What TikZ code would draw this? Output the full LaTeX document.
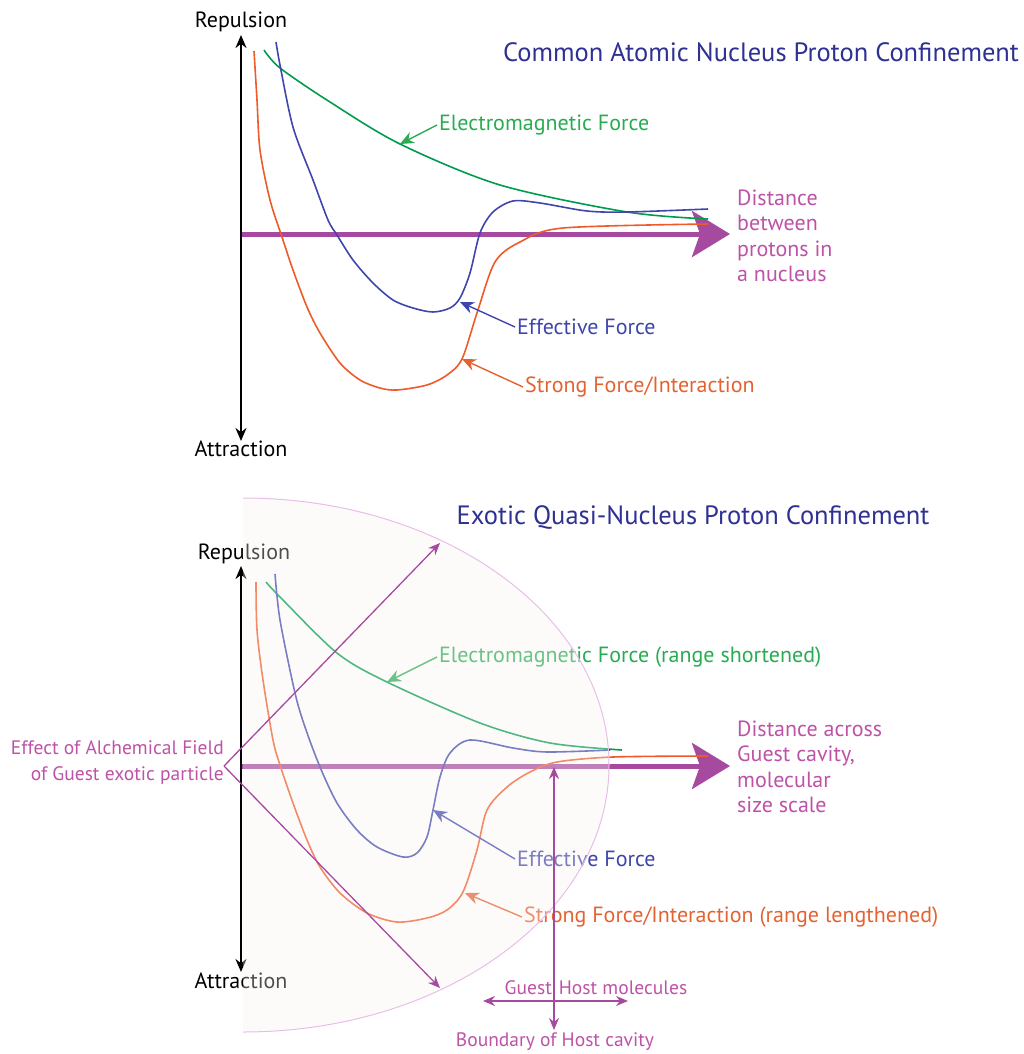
\documentclass[tikz,border=0pt]{standalone}
\usepackage{fontspec}
\setmainfont{PT Sans}
\usetikzlibrary{arrows.meta, positioning, calc}

\definecolor{axpurple}{RGB}{166,74,160}
\definecolor{txtmag}{RGB}{190,82,166}
\definecolor{ttlblue}{RGB}{46,49,146}
\definecolor{emgreen}{RGB}{0,156,78}
\definecolor{emtext}{RGB}{40,172,82}
\definecolor{effblue}{RGB}{62,70,172}
\definecolor{strorange}{RGB}{238,90,40}
\definecolor{strtext}{RGB}{228,98,48}
\definecolor{veil}{RGB}{248,243,241}
\definecolor{rimpink}{RGB}{232,190,232}

\tikzset{
  lbl/.style={font=\fontsize{22}{25.5}\selectfont, inner sep=2pt},
  smlbl/.style={font=\fontsize{19.5}{26}\selectfont, inner sep=1pt, text=txtmag},
  ttl/.style={font=\fontsize{26.5}{30}\selectfont, text=ttlblue, inner sep=0pt},
  curve/.style={line width=1.6pt},
  pointer/.style={line width=1.4pt, -{Stealth[length=14pt,width=12pt]}},
  yaxis/.style={line width=2.2pt, {Stealth[length=13pt,width=11pt]}-{Stealth[length=13pt,width=11pt]}},
  xaxis/.style={line width=5pt, axpurple, -{Stealth[length=38pt,width=46pt,inset=8pt]}},
  fxarrow/.style={line width=1.3pt, axpurple, -{Stealth[length=12pt,width=10pt]}},
  dblarrow/.style={line width=1.3pt, axpurple, {Stealth[length=12pt,width=10pt]}-{Stealth[length=12pt,width=10pt]}}
}

\begin{document}
\begin{tikzpicture}[x=1pt,y=-1pt]
  \useasboundingbox (0,0) rectangle (1023,1054);

  % top panel: common nucleus
  \node[ttl] (ttl1) at (761,52) {Common Atomic Nucleus Proton Confinement};
  \node[lbl] (rep1) at (241,22) {Repulsion};
  \node[lbl] (att1) at (241,449) {Attraction};
  \coordinate (ytop1) at (241,35);
  \coordinate (ybot1) at (241,441);
  \draw[yaxis] (ybot1) -- (ytop1);
  \coordinate (o1) at (242,234);
  \coordinate (xend1) at (730,234);
  \draw[xaxis] (o1) -- (xend1);
  \node[lbl, text=txtmag, align=left, anchor=west] (dist1) at (735,236) {Distance\\between\\protons in\\a nucleus};

  \draw[curve, emgreen] plot[smooth] coordinates {(264,50) (280,68) (330,102) (400,144) (500,185) (627,212) (708,219)};
  \draw[curve, effblue] plot[smooth] coordinates {(276,42) (280,65) (293,127) (313,180) (328,220) (337,235) (353,260) (373,283) (393,300) (413,308) (433,312) (450,308) (460,298) (470,273) (480,233) (493,212) (513,201) (540,203) (587,211) (627,212) (708,209)};
  \draw[curve, strorange] plot[smooth] coordinates {(254,51) (257,100) (260,150) (270,200) (283,240) (293,270) (307,307) (320,333) (340,363) (360,380) (380,388) (397,390) (427,385) (447,375) (462,359) (477,313) (495,262) (520,242) (563,228) (708,224)};

  \coordinate (emtip1) at (400,144);
  \coordinate (efftip1) at (460,302);
  \coordinate (strtip1) at (462,359);
  \node[lbl, text=emtext, anchor=west] (emlab1) at (437,125) {Electromagnetic Force};
  \node[lbl, text=effblue, anchor=west] (efflab1) at (515,327) {Effective Force};
  \node[lbl, text=strtext, anchor=west] (strlab1) at (523,387) {Strong Force/Interaction};
  \draw[pointer, emtext] (emlab1.west) -- (emtip1);
  \draw[pointer, effblue] (efflab1.west) -- (efftip1);
  \draw[pointer, strtext] (strlab1.west) -- (strtip1);

  % bottom panel: quasi-nucleus
  \node[ttl] (ttl2) at (693,517) {Exotic Quasi-Nucleus Proton Confinement};
  \node[lbl] (rep2) at (244,554) {Repulsion};
  \node[lbl] (att2) at (241,981) {Attraction};
  \coordinate (ytop2) at (241,566);
  \coordinate (ybot2) at (241,972);
  \draw[yaxis] (ybot2) -- (ytop2);
  \coordinate (o2) at (242,766);
  \coordinate (xend2) at (730,766);
  \draw[xaxis] (o2) -- (xend2);
  \node[lbl, text=txtmag, align=left, anchor=west] (dist2) at (735,767) {Distance across\\Guest cavity,\\molecular\\size scale};

  \draw[curve, emgreen] plot[smooth] coordinates {(266,582) (280,597) (337,653) (387,682) (480,723) (550,743) (622,750)};
  \draw[curve, effblue] plot[smooth] coordinates {(275,574) (280,620) (295,693) (305,727) (320,767) (337,803) (357,830) (377,847) (403,857) (417,853) (427,837) (433,810) (440,777) (450,753) (470,740) (513,748) (547,752) (610,750)};
  \draw[curve, strorange] plot[smooth] coordinates {(256,582) (257,630) (263,680) (273,740) (280,765) (293,803) (307,840) (320,867) (340,893) (367,913) (397,922) (427,918) (447,910) (463,892) (477,850) (487,810) (507,787) (530,772) (557,762) (613,757) (708,756)};

  \coordinate (emtip2) at (387,682);
  \coordinate (efftip2) at (433,810);
  \coordinate (strtip2) at (465,893);
  \node[lbl, text=emtext, anchor=west] (emlab2) at (437,657) {Electromagnetic Force (range shortened)};
  \node[lbl, text=effblue, anchor=west] (efflab2) at (515,859) {Effective Force};
  \node[lbl, text=strtext, anchor=west] (strlab2) at (522,917) {Strong Force/Interaction (range lengthened)};
  \draw[pointer, emtext] (emlab2.west) -- (emtip2);
  \draw[pointer, effblue] (efflab2.west) -- (efftip2);
  \draw[pointer, strtext] (strlab2.west) -- (strtip2);

  % host cavity veil
  \fill[veil, fill opacity=0.32] (243,498) -- (243,1032) arc[start angle=-90, end angle=90, x radius=366pt, y radius=267pt] -- cycle;
  \draw[rimpink, line width=1pt] (243,1032) arc[start angle=-90, end angle=90, x radius=366pt, y radius=267pt];

  \node[smlbl, align=right, anchor=east] (fxlab) at (225,763) {Effect of Alchemical Field\\of Guest exotic particle};
  \coordinate (fxv) at (224,766);
  \coordinate (fxup) at (440,543);
  \coordinate (fxdn) at (440,988);
  \draw[fxarrow] (fxv) -- (fxup);
  \draw[fxarrow] (fxv) -- (fxdn);

  \coordinate (bndtop) at (554,767);
  \coordinate (bndbot) at (554,1030);
  \draw[dblarrow] (bndbot) -- (bndtop);
  \node[smlbl] (bndlab) at (555,1042) {Boundary of Host cavity};
  \coordinate (ghl) at (483,1001);
  \coordinate (ghr) at (628,1001);
  \draw[dblarrow] (ghl) -- (ghr);
  \node[smlbl] (ghlab) at (596,988) {Guest\hspace{7pt}Host molecules};
\end{tikzpicture}
\end{document}
